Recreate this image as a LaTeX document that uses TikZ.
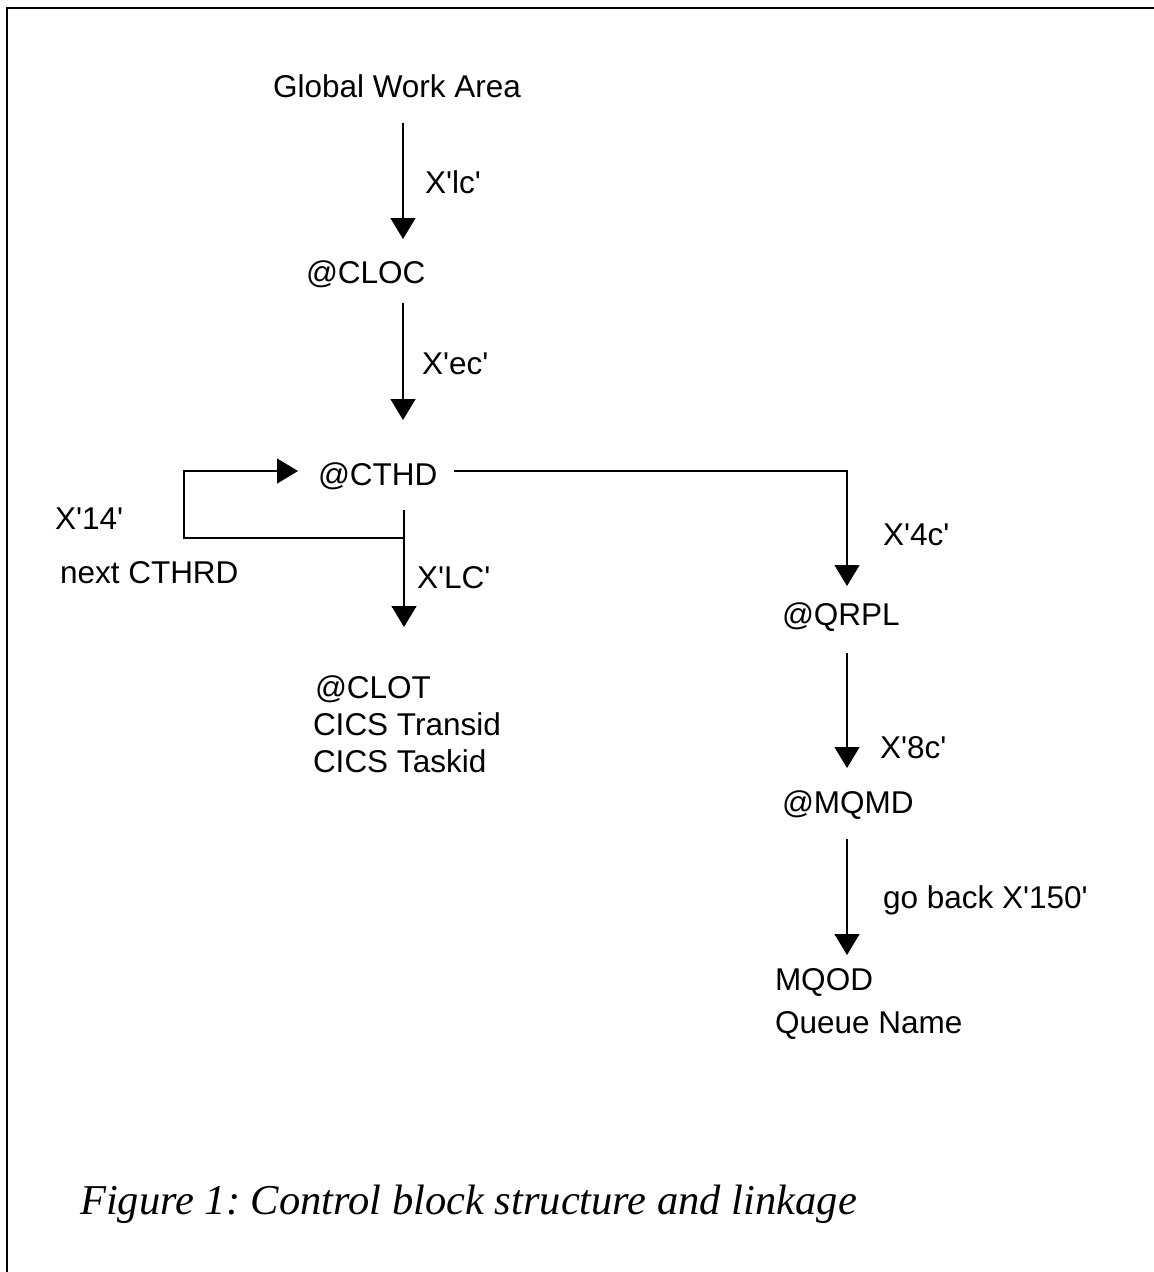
\documentclass[tikz,border=0pt]{standalone}
\usepackage{fontspec}
\setmainfont{Liberation Sans}
\newfontfamily\capfont{Liberation Serif}
\usetikzlibrary{arrows.meta}
\newcommand\sq{\textquotesingle}
\frenchspacing

\tikzset{
  lbl/.style={anchor=base west, inner sep=0pt, outer sep=0pt,
              font=\fontsize{31.5}{37}\selectfont},
  link/.style={line width=1.3pt},
  ptr/.style={link, -{Triangle[length=21pt,width=25pt]}},
  frame/.style={line width=2pt},
}

\begin{document}
\begin{tikzpicture}[x=1pt,y=-1pt]
\useasboundingbox (0,0) rectangle (1154,1272);
\fill[white] (0,0) rectangle (1154,1272);

% open frame: left and top edges only
\draw[frame] (7,1272) -- (7,8) -- (1154,8);

% control blocks
\node[lbl] (gwa)    at (273,97)   {Global Work Area};
\node[lbl] (cloc)   at (306,283)  {@CLOC};
\node[lbl] (cthd)   at (318,485)  {@CTHD};
\node[lbl] (clot)   at (315,698)  {@CLOT};
\node[lbl] (transid) at (313,735) {CICS Transid};
\node[lbl] (taskid) at (313,772)  {CICS Taskid};
\node[lbl] (qrpl)   at (782,625)  {@QRPL};
\node[lbl] (mqmd)   at (782,813)  {@MQMD};
\node[lbl] (mqod)   at (775,990)  {MQOD};
\node[lbl] (qname)  at (775,1033) {Queue Name};

% offsets
\node[lbl] (o1)  at (425,193) {X\sq lc\sq};
\node[lbl] (o2)  at (422,374) {X\sq ec\sq};
\node[lbl] (o3)  at (417,588) {X\sq LC\sq};
\node[lbl] (o4)  at (883,545) {X\sq 4c\sq};
\node[lbl] (o5)  at (880,758) {X\sq 8c\sq};
\node[lbl] (o6)  at (883,908) {go back X\sq 150\sq};
\node[lbl] (o7)  at (55,529)  {X\sq 14\sq};
\node[lbl] (o8)  at (60,583)  {next CTHRD};

% connector end points
\coordinate (a1s) at (403,123);  \coordinate (a1e) at (403,239);
\coordinate (a2s) at (403,303);  \coordinate (a2e) at (403,420);
\coordinate (a3s) at (404,510);  \coordinate (a3e) at (404,627);
\coordinate (join) at (404,538);
\coordinate (lp1) at (184,538);  \coordinate (lp2) at (184,471);
\coordinate (lpe) at (298,471);
\coordinate (r0) at (454,471);   \coordinate (r1) at (847,471);
\coordinate (r1e) at (847,586);
\coordinate (a5s) at (847,653);  \coordinate (a5e) at (847,768);
\coordinate (a6s) at (847,839);  \coordinate (a6e) at (847,955);

% pointer chain
\draw[ptr] (a1s) -- (a1e);
\draw[ptr] (a2s) -- (a2e);
\draw[ptr] (a3s) -- (a3e);
\draw[ptr] (join) -- (lp1) -- (lp2) -- (lpe);
\draw[ptr] (r0) -- (r1) -- (r1e);
\draw[ptr] (a5s) -- (a5e);
\draw[ptr] (a6s) -- (a6e);

% caption
\node[anchor=base west, inner sep=0pt] (cap) at (80,1214)
  {\capfont\itshape\fontsize{42.5}{50}\selectfont Figure 1: Control block structure and linkage};
\end{tikzpicture}
\end{document}
